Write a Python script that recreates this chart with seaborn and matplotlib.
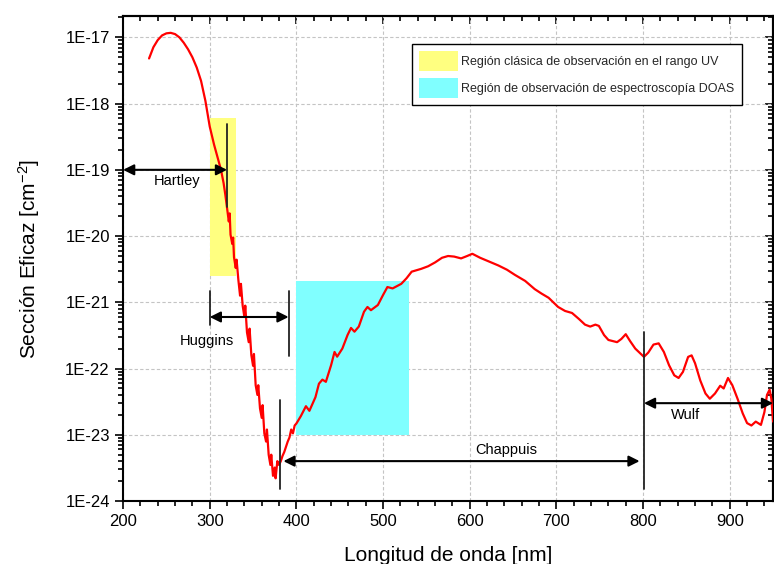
import matplotlib
matplotlib.use("Agg")
import matplotlib.pyplot as plt
import numpy as np
import seaborn as sns
from matplotlib.patches import Patch
from matplotlib.ticker import MultipleLocator, LogLocator, NullFormatter, FuncFormatter

# Ozone absorption cross section
wavelength = [
    230, 235, 240, 245, 250, 255, 260, 265, 270, 275, 280, 285, 290, 295,
    300, 305, 310, 313, 316, 318, 320, 322, 323, 324, 326, 327, 328, 330,
    331, 333, 335, 336, 338, 340, 341, 343, 345, 346, 348, 350, 351, 353,
    355, 356, 358, 360, 361, 363, 365, 366, 368, 370, 371, 373, 375, 376,
    378, 380, 382, 384, 386, 388, 390, 392, 394, 396, 398, 400, 405, 411,
    415, 422, 426, 430, 434, 440, 444, 447, 453, 459, 463, 467, 472, 478,
    482, 486, 494, 500, 505, 511, 521, 527, 533, 544, 552, 560, 568, 575,
    582, 590, 597, 603, 612, 621, 633, 643, 652, 664, 675, 683, 691, 702,
    710, 718, 726, 733, 739, 745, 749, 755, 760, 770, 775, 780, 785, 791,
    801, 806, 812, 818, 824, 830, 836, 841, 846, 852, 856, 860, 866, 872,
    877, 883, 889, 893, 898, 903, 909, 915, 920, 925, 930, 936, 940, 943,
    946, 948, 950,
]
cross_section = [
    4.8e-18, 7.1e-18, 9.1e-18, 1.07e-17, 1.15e-17, 1.17e-17, 1.12e-17, 1.0e-17,
    8.3e-18, 6.6e-18, 5.0e-18, 3.5e-18, 2.2e-18, 1.1e-18,
    4.5e-19, 2.4e-19, 1.4e-19, 1.0e-19, 6.3e-20, 4.2e-20, 2.6e-20, 1.66e-20,
    2.2e-20, 1.05e-20, 7.6e-21, 9.5e-21, 4.8e-21, 3.3e-21,
    4.4e-21, 2.2e-21, 1.26e-21, 1.9e-21, 8.9e-22, 6.0e-22, 8.9e-22, 3.5e-22,
    2.5e-22, 4.0e-22, 1.6e-22, 1.1e-22, 1.66e-22, 5.6e-23,
    4.0e-23, 5.6e-23, 2.5e-23, 1.8e-23, 2.8e-23, 1.05e-23, 7.9e-24, 1.2e-23,
    5.0e-24, 3.5e-24, 5.0e-24, 2.4e-24, 3.2e-24, 2.2e-24,
    4.0e-24, 3.5e-24, 4.0e-24, 4.8e-24, 5.5e-24, 6.6e-24, 7.9e-24, 9.1e-24,
    1.2e-23, 1.05e-23, 1.38e-23, 1.48e-23, 1.9e-23, 2.7e-23,
    2.3e-23, 3.7e-23, 5.9e-23, 6.8e-23, 6.3e-23, 1.12e-22, 1.78e-22, 1.51e-22,
    2.0e-22, 3.2e-22, 4.1e-22, 3.6e-22, 4.3e-22, 7.2e-22,
    8.5e-22, 7.6e-22, 9.1e-22, 1.29e-21, 1.7e-21, 1.62e-21, 1.9e-21, 2.3e-21,
    2.9e-21, 3.2e-21, 3.5e-21, 4.0e-21, 4.7e-21, 5.0e-21,
    4.9e-21, 4.6e-21, 5.0e-21, 5.4e-21, 4.7e-21, 4.2e-21, 3.6e-21, 3.1e-21,
    2.6e-21, 2.1e-21, 1.58e-21, 1.35e-21, 1.17e-21, 8.5e-22,
    7.4e-22, 6.9e-22, 5.6e-22, 4.6e-22, 4.3e-22, 4.6e-22, 4.4e-22, 3.2e-22,
    2.7e-22, 2.5e-22, 2.8e-22, 3.3e-22, 2.6e-22, 2.0e-22,
    1.5e-22, 1.74e-22, 2.3e-22, 2.4e-22, 1.78e-22, 1.12e-22, 7.9e-23, 7.2e-23,
    8.9e-23, 1.5e-22, 1.58e-22, 1.2e-22, 6.6e-23, 4.2e-23,
    3.5e-23, 4.2e-23, 5.5e-23, 5.0e-23, 7.2e-23, 5.6e-23, 3.5e-23, 2.1e-23,
    1.5e-23, 1.38e-23, 1.58e-23, 1.41e-23, 2.2e-23, 4.0e-23,
    4.8e-23, 3.5e-23, 1.58e-23,
]

# Shaded observation regions: (x0, x1, y0, y1)
region_labels = [
    "Región clásica de observación en el rango UV",
    "Región de observación de espectroscopía DOAS",
]
region_x = [(300, 330), (400, 530)]
region_y = [(2.5e-21, 6.0e-19), (1.0e-23, 2.1e-21)]
region_colors = ["#ffff80", "#80ffff"]

# Absorption bands: arrow span, arrow height, label position
band_names = ["Hartley", "Huggins", "Chappuis", "Wulf"]
band_span = [(200, 320), (300, 391), (385, 796), (801, 950)]
band_level = [1.0e-19, 6.0e-22, 4.0e-24, 3.0e-23]
band_text_pos = [(262, 6.7e-20), (297, 2.6e-22), (642, 5.9e-24), (849, 2.0e-23)]

# vertical marker lines (x, y0, y1)
marker_lines = [
    (320, 2.75e-20, 5.0e-19),
    (300, 4.5e-22, 1.5e-21),
    (392, 1.55e-22, 1.5e-21),
    (381, 1.5e-24, 3.3e-23),
    (801, 1.5e-24, 3.6e-22),
]

sns.set_theme(style="ticks")
plt.rcParams["font.family"] = ["Liberation Sans", "DejaVu Sans"]
plt.rcParams["mathtext.fontset"] = "custom"
plt.rcParams["mathtext.rm"] = "Liberation Sans"
plt.rcParams["mathtext.it"] = "Liberation Sans"

fig = plt.figure(figsize=(7.74, 5.64), dpi=100)
ax = fig.add_axes([0.159, 0.1117, 0.8398, 0.8599])

ax.set_yscale("log")
ax.set_xlim(200, 950)
ax.set_ylim(1e-24, 2.1e-17)

ax.grid(True, which="major", color="#c4c4c4", linestyle=(0, (3, 2)), linewidth=0.8)
ax.set_axisbelow(True)

for (x0, x1), (y0, y1), c in zip(region_x, region_y, region_colors):
    ax.fill_between([x0, x1], y0, y1, color=c, linewidth=0, zorder=1)

sns.lineplot(x=wavelength, y=cross_section, color="#ff0000", linewidth=1.6,
             ax=ax, zorder=3, sort=False)

for x, y0, y1 in marker_lines:
    ax.plot([x, x], [y0, y1], color="#222222", linewidth=1.3, zorder=4)

for name, (x0, x1), lvl, (tx, ty) in zip(band_names, band_span, band_level, band_text_pos):
    ax.annotate("", xy=(x1, lvl), xytext=(x0, lvl),
                arrowprops=dict(arrowstyle="<|-|>", color="black", lw=1.5,
                                mutation_scale=16, shrinkA=0, shrinkB=0),
                zorder=5)
    ax.text(tx, ty, name, ha="center", va="center", fontsize=10.5, color="black", zorder=5)

# axes ticks: outward on bottom/left, inward on top/right
ax.xaxis.set_major_locator(MultipleLocator(100))
ax.xaxis.set_minor_locator(MultipleLocator(20))
ax.yaxis.set_major_locator(LogLocator(base=10, numticks=20))
ax.yaxis.set_minor_locator(LogLocator(base=10, subs=np.arange(2, 10), numticks=100))
ax.yaxis.set_minor_formatter(NullFormatter())
ax.yaxis.set_major_formatter(FuncFormatter(lambda v, _: f"1E{int(round(np.log10(v)))}"))
ax.tick_params(which="both", direction="out", top=False, right=False, width=1.2,
               colors="black", labelsize=12, labelcolor="black")
ax.tick_params(which="major", length=6)
ax.tick_params(which="minor", length=3.5)

sec_x = ax.secondary_xaxis("top")
sec_x.xaxis.set_major_locator(MultipleLocator(100))
sec_x.xaxis.set_minor_locator(MultipleLocator(20))
sec_x.tick_params(which="both", direction="in", labeltop=False, width=1.2, colors="black")
sec_x.tick_params(which="major", length=6)
sec_x.tick_params(which="minor", length=3.5)

sec_y = ax.secondary_yaxis("right")
sec_y.yaxis.set_major_locator(LogLocator(base=10, numticks=20))
sec_y.yaxis.set_minor_locator(LogLocator(base=10, subs=np.arange(2, 10), numticks=100))
sec_y.tick_params(which="both", direction="in", labelright=False, width=1.2, colors="black")
sec_y.tick_params(which="major", length=6)
sec_y.tick_params(which="minor", length=3.5)

for s in ax.spines.values():
    s.set_linewidth(1.5)
    s.set_color("black")
for s in list(sec_x.spines.values()) + list(sec_y.spines.values()):
    s.set_linewidth(1.5)
    s.set_color("black")

ax.set_xlabel("Longitud de onda [nm]", fontsize=15, labelpad=12, color="black")
ax.set_ylabel("Sección Eficaz [cm$^{-2}$]", fontsize=15, labelpad=17, color="black")

handles = [Patch(facecolor=c, edgecolor="none") for c in region_colors]
leg = ax.legend(handles, region_labels, loc="upper left", bbox_to_anchor=(0.4446, 0.9423),
                fontsize=9, frameon=True, fancybox=False, framealpha=1,
                edgecolor="black", handlelength=3.1, handleheight=2.1,
                borderpad=0.55, labelspacing=0.55, handletextpad=0.3, borderaxespad=0)
leg.get_frame().set_linewidth(1.0)

fig.savefig("out.png", dpi=100)
